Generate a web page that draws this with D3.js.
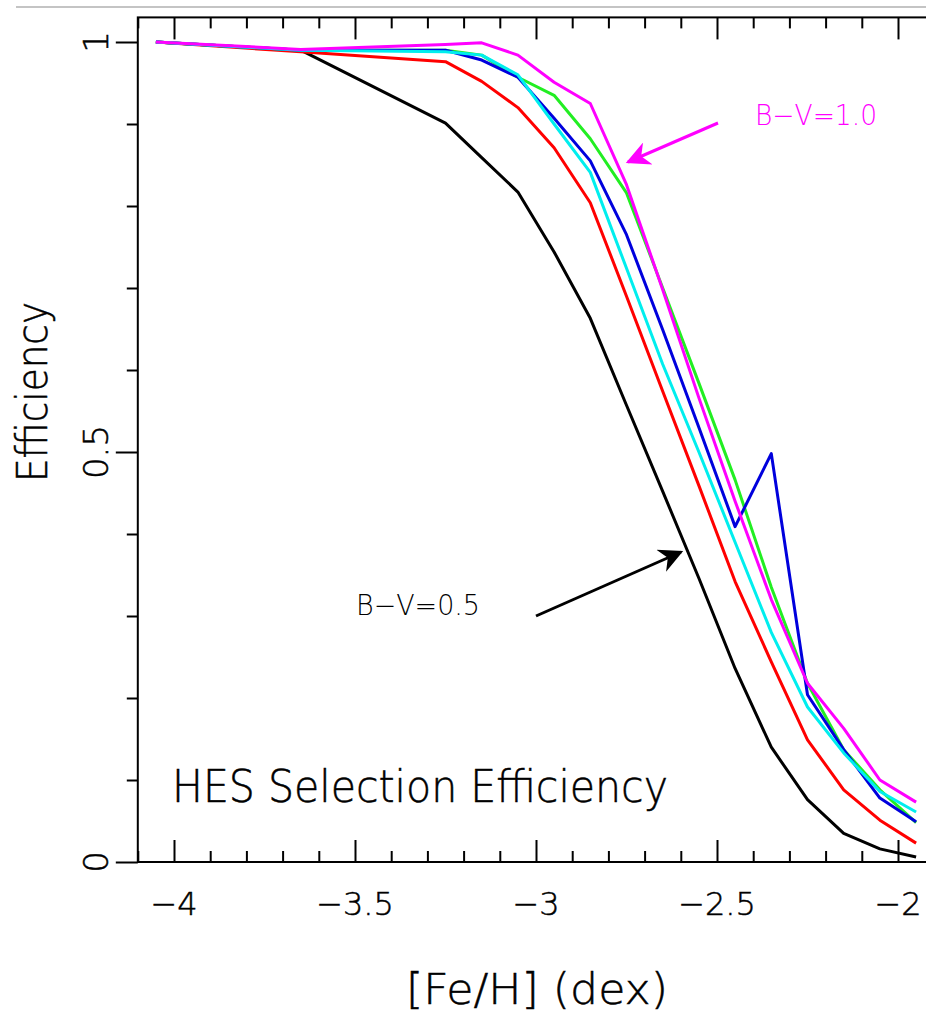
<!DOCTYPE html>
<html>
<head>
<meta charset="utf-8">
<script src="https://cdn.jsdelivr.net/npm/d3@7"></script>
<style>
  body { margin: 0; background: #fff; overflow: hidden; }
  text { font-family: "DejaVu Sans", sans-serif; font-weight: 200; fill: #000; }
  .axtext { stroke: #000; stroke-width: 0.5; }
</style>
</head>
<body>
<div id="chart"></div>
<script>
// [Fe/H] bin centres shared by all curves
const feh = [-4.05, -3.65, -3.25, -3.15, -3.05, -2.95, -2.85, -2.75, -2.65, -2.55, -2.45, -2.35, -2.25, -2.15, -2.05, -1.95];

// selection efficiency per B-V colour
const effBlack   = [1.0, 0.99, 0.901, 0.859, 0.817, 0.744, 0.663, 0.557, 0.452, 0.346, 0.236, 0.14, 0.076, 0.035, 0.016, 0.006];
const effRed     = [1.0, 0.988, 0.976, 0.952, 0.92, 0.871, 0.804, 0.69, 0.574, 0.459, 0.342, 0.244, 0.149, 0.088, 0.051, 0.023];
const effGreen   = [1.0, 0.99, 0.99, 0.984, 0.957, 0.935, 0.882, 0.816, 0.7, 0.584, 0.466, 0.335, 0.218, 0.137, 0.088, 0.048];
const effBlue    = [1.0, 0.99, 0.99, 0.978, 0.957, 0.907, 0.855, 0.765, 0.649, 0.53, 0.409, 0.498, 0.204, 0.137, 0.078, 0.049];
const effCyan    = [1.0, 0.99, 0.988, 0.984, 0.96, 0.9, 0.841, 0.724, 0.607, 0.5, 0.39, 0.28, 0.189, 0.133, 0.086, 0.061];
const effMagenta = [1.0, 0.991, 0.997, 0.999, 0.984, 0.951, 0.925, 0.826, 0.698, 0.566, 0.44, 0.32, 0.218, 0.163, 0.1, 0.073];

const seriesNames  = ["black", "red", "green", "blue", "cyan", "magenta"];
const seriesValues = [effBlack, effRed, effGreen, effBlue, effCyan, effMagenta];

const xMajorTicks = [-4, -3.5, -3, -2.5, -2];
const xTickLabels = ["\u22124", "\u22123.5", "\u22123", "\u22122.5", "\u22122"];
const yMajorTicks = [0, 0.5, 1];
const yTickLabels = ["0", "0.5", "1"];

const W = 926, H = 1016;
const colors = {black: "#000000", red: "#ff0000", green: "#22ee22", blue: "#0000dd", cyan: "#00eeee", magenta: "#ff00ff"};

const svg = d3.select("#chart").append("svg")
    .attr("width", W)
    .attr("height", H);

// plot frame runs a little past the right edge of the picture
const x = d3.scaleLinear().domain([-4.1, -1.9]).range([137.8, 934.2]);
const y = d3.scaleLinear().domain([0, 1.03]).range([862, 17.4]);

// thin grey border line at the top of the page
svg.append("line")
    .attr("x1", 16).attr("x2", W).attr("y1", 7).attr("y2", 7)
    .attr("stroke", "#b0b0b0").attr("stroke-width", 1.5);

// axes: major ticks 22px, minor 11px, mirrored on all four sides
const xMinor = d3.range(-41, -18).map(d => d / 10).filter(d => !xMajorTicks.some(m => Math.abs(m - d) < 1e-6));
const yMinor = d3.range(0, 11).map(d => d / 10).filter(d => !yMajorTicks.some(m => Math.abs(m - d) < 1e-6));

function drawAxis(gen, transform, major, minor) {
    svg.append("g").attr("transform", transform)
        .call(gen.tickValues(major).tickSize(22).tickFormat(""))
        .call(g => g.select(".domain").remove());
    svg.append("g").attr("transform", transform)
        .call(gen.tickValues(minor).tickSize(11).tickFormat(""))
        .call(g => g.select(".domain").remove());
}
drawAxis(d3.axisTop(x), `translate(0,${y(0)})`, xMajorTicks, xMinor);
drawAxis(d3.axisBottom(x), `translate(0,${y(1.03)})`, xMajorTicks, xMinor);
drawAxis(d3.axisLeft(y), `translate(${x(-4.1)},0)`, yMajorTicks, yMinor);
drawAxis(d3.axisRight(y), `translate(${x(-1.9)},0)`, yMajorTicks, yMinor);
svg.selectAll(".tick line").attr("stroke", "#000").attr("stroke-width", 2);

svg.append("rect")
    .attr("x", x(-4.1)).attr("y", y(1.03))
    .attr("width", x(-1.9) - x(-4.1)).attr("height", y(0) - y(1.03))
    .attr("fill", "none").attr("stroke", "#000").attr("stroke-width", 2);

// tick labels
svg.selectAll(".xlab").data(xMajorTicks).enter().append("text")
    .attr("class", "xlab axtext")
    .attr("x", d => x(d)).attr("y", 915)
    .attr("text-anchor", "middle")
    .attr("font-size", 32)
    .text((d, i) => xTickLabels[i]);

svg.selectAll(".ylab").data(yMajorTicks).enter().append("text")
    .attr("class", "ylab axtext")
    .attr("transform", d => `translate(108,${y(d)}) rotate(-90)`)
    .attr("text-anchor", "middle")
    .attr("font-size", 34)
    .text((d, i) => yTickLabels[i]);

// axis titles
svg.append("text")
    .attr("class", "axtext")
    .attr("x", 537).attr("y", 1004)
    .attr("text-anchor", "middle")
    .attr("font-size", 42)
    .attr("textLength", 262).attr("lengthAdjust", "spacingAndGlyphs")
    .text("[Fe/H] (dex)");

svg.append("text")
    .attr("class", "axtext")
    .attr("transform", "translate(47,392) rotate(-90)")
    .attr("text-anchor", "middle")
    .attr("font-size", 42)
    .attr("textLength", 180).attr("lengthAdjust", "spacingAndGlyphs")
    .text("Efficiency");

svg.append("text")
    .attr("class", "axtext")
    .attr("x", 172).attr("y", 802)
    .attr("font-size", 44)
    .attr("textLength", 496).attr("lengthAdjust", "spacingAndGlyphs")
    .text("HES Selection Efficiency");

// curves
const line = d3.line()
    .x((d, i) => x(feh[i]))
    .y(d => y(d));

svg.append("g").selectAll("path")
    .data(seriesValues)
    .enter().append("path")
    .attr("d", d => line(d))
    .attr("fill", "none")
    .attr("stroke", (d, i) => colors[seriesNames[i]])
    .attr("stroke-width", 3)
    .attr("stroke-linejoin", "round");

// annotations with arrows
const defs = svg.append("defs");
["black", "magenta"].forEach(c => {
    defs.append("marker")
        .attr("id", "head-" + c)
        .attr("viewBox", "0 0 10 10")
        .attr("refX", 9).attr("refY", 5)
        .attr("markerWidth", 10).attr("markerHeight", 8)
        .attr("markerUnits", "strokeWidth")
        .attr("orient", "auto")
        .append("path")
        .attr("d", "M0,0 L10,5 L0,10 L3,5 Z")
        .attr("fill", colors[c]);
});

svg.append("line")
    .attr("x1", 718).attr("y1", 123).attr("x2", 628).attr("y2", 162)
    .attr("stroke", colors.magenta).attr("stroke-width", 3)
    .attr("marker-end", "url(#head-magenta)");
svg.append("text")
    .attr("x", 755).attr("y", 125)
    .attr("font-size", 28).attr("font-weight", 400)
    .attr("textLength", 122).attr("lengthAdjust", "spacingAndGlyphs")
    .style("fill", colors.magenta)
    .text("B\u2212V=1.0");

svg.append("line")
    .attr("x1", 536).attr("y1", 616).attr("x2", 681).attr("y2", 552)
    .attr("stroke", "#000").attr("stroke-width", 3)
    .attr("marker-end", "url(#head-black)");
svg.append("text")
    .attr("x", 356).attr("y", 615)
    .attr("font-size", 28).attr("font-weight", 400)
    .attr("textLength", 124).attr("lengthAdjust", "spacingAndGlyphs")
    .text("B\u2212V=0.5");
</script>
</body>
</html>
